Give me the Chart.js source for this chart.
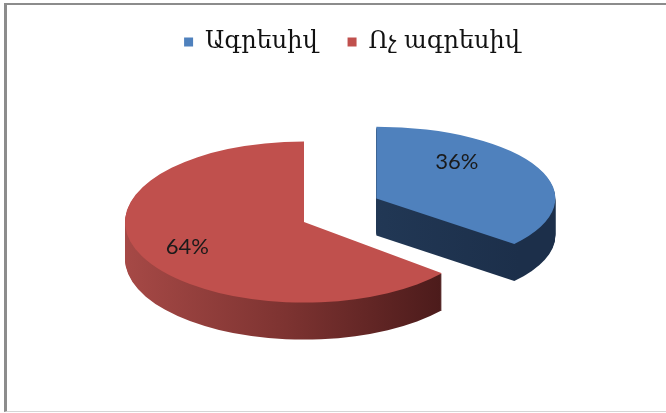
<!DOCTYPE html>
<html>
<head>
<meta charset="utf-8">
<script src="https://cdn.jsdelivr.net/npm/chart.js@4.4.1/dist/chart.umd.min.js"></script>
<style>
    html, body { margin: 0; padding: 0; background: #fff; }
    #wrap { position: relative; width: 666px; height: 413px; overflow: hidden; }
    #frame {
        position: absolute; left: 4px; top: 3px; width: 700px; height: 406px;
        border-left: 3px solid #8c8c8c; border-top: 2px solid #8c8c8c; border-bottom: 1px solid #d6d6d6;
    }
    canvas { position: absolute; left: 0; top: 0; }
</style>
</head>
<body>
<div id="wrap">
    <div id="frame"></div>
    <canvas id="pieChart" width="666" height="413"></canvas>
</div>
<script>
    const sliceLabels = ["Ագրեսիվ", "Ոչ ագրեսիվ"];
    const sliceShares = [36, 64];
    const topColors = ["#4f81bd", "#c0504d"];
    const sideColors = [
        ["#284262", "#1c2f4a"],
        ["#a64946", "#7d3331", "#4a1a1a"]
    ];

    // fake 3D: squash each slice, stack its outline for the wall, then lay the face on top
    const pie3d = {
        id: "pie3d",
        beforeDatasetsDraw(chart, args, opts) {
            const ctx = chart.ctx;
            const meta = chart.getDatasetMeta(0);
            const values = chart.data.datasets[0].data;

            const place = (arc, i, drop) => {
                const mid = (arc.startAngle + arc.endAngle) / 2;
                const push = opts.explode[i] || 0;
                ctx.translate(arc.x + opts.shiftX, arc.y + drop - opts.lift[i]);
                ctx.scale(1, opts.tilt[i]);
                ctx.translate(-arc.x + Math.cos(mid) * push, -arc.y + Math.sin(mid) * push);
            };

            opts.drawOrder.forEach((i) => {
                const arc = meta.data[i];
                const wall = ctx.createLinearGradient(arc.x - arc.outerRadius, 0, arc.x + arc.outerRadius * 0.8, 0);
                opts.sideColors[i].forEach((c, k, all) => wall.addColorStop(k / (all.length - 1), c));

                for (let d = opts.depth; d > 0; d--) {
                    ctx.save();
                    place(arc, i, d);
                    ctx.beginPath();
                    ctx.moveTo(arc.x, arc.y);
                    ctx.arc(arc.x, arc.y, arc.outerRadius, arc.startAngle, arc.endAngle);
                    ctx.closePath();
                    ctx.fillStyle = wall;
                    ctx.fill();
                    ctx.restore();
                }

                ctx.save();
                place(arc, i, 0);
                arc.draw(ctx);
                ctx.restore();
            });

            ctx.save();
            ctx.font = opts.labelFont;
            ctx.fillStyle = "#1a1a1a";
            ctx.textAlign = "center";
            ctx.textBaseline = "middle";
            meta.data.forEach((arc, i) => {
                const mid = (arc.startAngle + arc.endAngle) / 2;
                const push = opts.explode[i] || 0;
                const a = mid + opts.labelTurn[i];
                const r = arc.outerRadius * opts.labelRadius[i];
                const ux = Math.cos(mid) * push + Math.cos(a) * r;
                const uy = Math.sin(mid) * push + Math.sin(a) * r;
                ctx.fillText(values[i] + "%", arc.x + opts.shiftX + ux, arc.y - opts.lift[i] + uy * opts.tilt[i]);
            });
            ctx.restore();
            return false;
        }
    };

    new Chart(document.getElementById("pieChart"), {
        type: "pie",
        data: {
            labels: sliceLabels,
            datasets: [
                {
                    data: sliceShares,
                    backgroundColor: topColors,
                    borderWidth: 0
                }
            ]
        },
        options: {
            responsive: false,
            animation: false,
            events: [],
            radius: 179,
            layout: { padding: { top: 0, left: 38, right: 0, bottom: 33 } },
            plugins: {
                tooltip: { enabled: false },
                legend: {
                    position: "top",
                    labels: {
                        boxWidth: 9,
                        boxHeight: 9,
                        padding: 30,
                        color: "#111",
                        font: { family: "'DejaVu Serif', serif", size: 24 }
                    }
                },
                pie3d: {
                    tilt: [0.4, 0.45],
                    lift: [10, 0],
                    depth: 37,
                    shiftX: -48,
                    explode: [80, 0],
                    drawOrder: [0, 1],
                    sideColors: sideColors,
                    labelTurn: [-0.41, 0],
                    labelRadius: [0.68, 0.72],
                    labelFont: "22px Lato"
                }
            }
        },
        plugins: [pie3d]
    });
</script>
</body>
</html>
